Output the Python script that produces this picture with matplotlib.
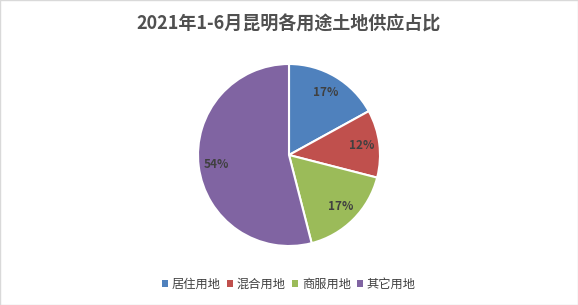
import matplotlib.pyplot as plt
from matplotlib.patches import Patch

plt.rcParams['font.family'] = ['Noto Sans CJK SC', 'DejaVu Sans']

# ============= Data =============
title = '2021年1-6月昆明各用途土地供应占比'
categories = ['居住用地', '混合用地', '商服用地', '其它用地']
shares = [17, 12, 17, 54]
colors = ['#4F81BD', '#C0504D', '#9BBB59', '#8064A2']

W, H = 578, 305
fig = plt.figure(figsize=(W / 100, H / 100), dpi=100)
fig.patch.set_facecolor('white')

# pie axes: centre (289,155) px, radius 91 px
cx, cy, r = 289, 155, 91
ax = fig.add_axes([(cx - r) / W, 1 - (cy + r) / H, 2 * r / W, 2 * r / H])
wedges, texts, autotexts = ax.pie(
    shares, colors=colors, startangle=90, counterclock=False,
    autopct='%d%%', pctdistance=0.8,
    wedgeprops=dict(edgecolor='white', linewidth=1.5),
    textprops=dict(fontsize=8.5, fontweight='bold', color='#404040'))
ax.set_aspect('equal')
ax.set_xlim(-1, 1)
ax.set_ylim(-1, 1)

fig.text(0.5, 1 - 24 / H, title, ha='center', va='center',
         fontsize=13, fontweight='bold', color='#505050')

handles = [Patch(facecolor=c, edgecolor='none') for c in colors]
fig.legend(handles, categories, loc='center', bbox_to_anchor=(0.5, 1 - 284 / H),
           ncol=4, frameon=False, fontsize=8.8, handlelength=0.5, handleheight=0.5,
           handletextpad=0.3, columnspacing=0.5, labelcolor='#404040')

# thin outer frame
fig.add_artist(plt.Rectangle((0, 0), 1, 1, transform=fig.transFigure,
                             fill=False, edgecolor='#D9D9D9', linewidth=1))

plt.savefig('out.png', dpi=100)
